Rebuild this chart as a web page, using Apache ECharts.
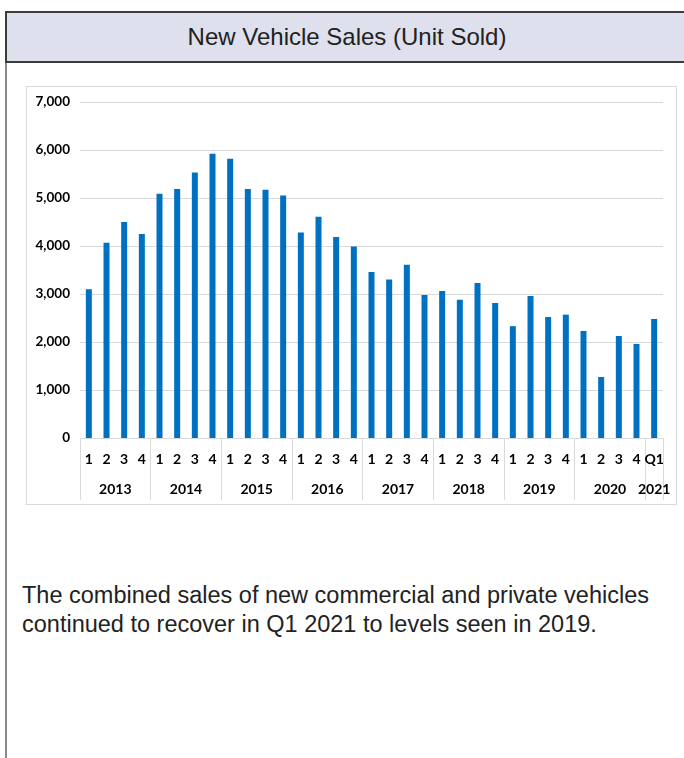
<!DOCTYPE html>
<html>
<head>
<meta charset="utf-8">
<script src="https://cdn.jsdelivr.net/npm/echarts@6/dist/echarts.min.js"></script>
<style>
  html, body { margin: 0; padding: 0; background: #fff; width: 684px; height: 758px; overflow: hidden; }
  #leftRule { position: absolute; left: 5px; top: 11px; width: 2px; height: 747px; background: #8a8a8a; }
  #header {
    position: absolute; left: 5px; top: 11px; width: 700px; height: 48px;
    background: #dfe0ed; border-top: 2px solid #3c3c3c; border-bottom: 2px solid #3c3c3c;
    border-left: 2px solid #3c3c3c;
  }
  #header h1 {
    position: absolute; left: 0; width: 680px; top: 0; margin: 0;
    font: 24px "Liberation Sans", Arial, sans-serif; line-height: 48px;
    text-align: center; color: #222;
  }
  #chartBox { position: absolute; left: 26px; top: 86px; width: 649px; height: 417px; border: 1px solid #d9d9d9; }
  #chart { position: absolute; left: 0; top: 0; width: 684px; height: 758px; }
  #note {
    position: absolute; left: 22px; top: 581px; width: 670px; margin: 0;
    font: 23.5px "Liberation Sans", Arial, sans-serif; line-height: 29px; color: #222;
  }
</style>
</head>
<body>
<div id="leftRule"></div>
<div id="header"><h1>New Vehicle Sales (Unit Sold)</h1></div>
<div id="chartBox"></div>
<p id="note">The combined sales of new commercial and private vehicles<br>continued to recover in Q1 2021 to levels seen in 2019.</p>
<div id="chart"></div>
<script>
// Quarterly new vehicle sales, units sold
const years = ['2013', '2014', '2015', '2016', '2017', '2018', '2019', '2020', '2021'];
const quarterLabels = [
  ['1', '2', '3', '4'], ['1', '2', '3', '4'], ['1', '2', '3', '4'], ['1', '2', '3', '4'],
  ['1', '2', '3', '4'], ['1', '2', '3', '4'], ['1', '2', '3', '4'], ['1', '2', '3', '4'],
  ['Q1']
];
const unitsSold = [
  3100, 4070, 4500, 4250,
  5090, 5190, 5530, 5920,
  5820, 5190, 5170, 5050,
  4280, 4610, 4190, 3990,
  3460, 3300, 3610, 2980,
  3060, 2880, 3230, 2810,
  2330, 2960, 2520, 2570,
  2230, 1270, 2125, 1960,
  2480
];
const yTicks = { min: 0, max: 7000, step: 1000 };

// Flatten the two-level category axis and work out the year groups
const categories = [];
const groupBounds = [0];
const groupCenters = [];
const yearAt = {};
quarterLabels.forEach((qs, i) => {
  const start = categories.length;
  qs.forEach(q => categories.push(q));
  const end = categories.length;
  groupBounds.push(end);
  const c = (start + end) / 2;
  groupCenters.push(c);
  yearAt[c] = years[i];
});

const fontFamily = 'Lato, "Open Sans", sans-serif';
const xLabelFont = { fontFamily, fontWeight: 'bold', fontSize: 14, color: '#000' };
const yLabelFont = { fontFamily, fontWeight: 'bold', fontSize: 13.5, color: '#000' };
const gridColor = '#d9d9d9';

const chart = echarts.init(document.getElementById('chart'), null, { renderer: 'canvas' });
chart.setOption({
  animation: false,
  backgroundColor: 'transparent',
  grid: { left: 80, top: 102, width: 583, height: 336, containLabel: false },
  xAxis: [
    {
      type: 'category',
      data: categories,
      boundaryGap: true,
      axisLine: { show: true, lineStyle: { color: gridColor, width: 1 } },
      axisTick: { show: false },
      axisLabel: Object.assign({ interval: 0, margin: 14 }, xLabelFont),
      splitLine: { show: false }
    },
    {
      type: 'value',
      position: 'bottom',
      min: 0,
      max: categories.length,
      axisLine: { show: false },
      axisTick: {
        show: true, inside: false, length: 62, customValues: groupBounds,
        lineStyle: { color: gridColor, width: 1 }
      },
      axisLabel: Object.assign({
        customValues: groupCenters, margin: 44,
        formatter: v => yearAt[v] || ''
      }, xLabelFont),
      splitLine: { show: false }
    }
  ],
  yAxis: {
    type: 'value',
    min: yTicks.min,
    max: yTicks.max,
    interval: yTicks.step,
    axisLine: { show: false },
    axisTick: { show: false },
    axisLabel: Object.assign({ margin: 10, formatter: v => v.toLocaleString('en-US') }, yLabelFont),
    splitLine: { show: true, lineStyle: { color: gridColor, width: 1 } }
  },
  series: [{
    type: 'bar',
    xAxisIndex: 0,
    yAxisIndex: 0,
    data: unitsSold,
    barWidth: 6,
    itemStyle: { color: '#0070c0' }
  }]
});
</script>
</body>
</html>
